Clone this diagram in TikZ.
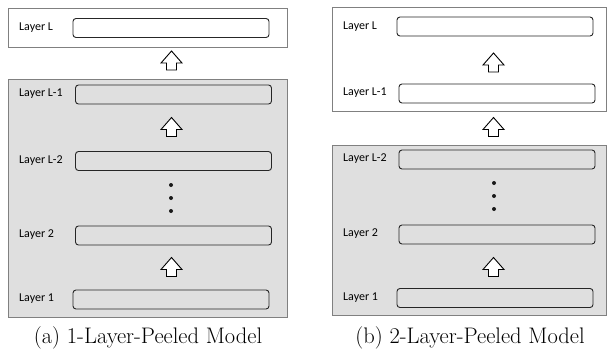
\documentclass[tikz,border=0pt]{standalone}
\usepackage{fontspec}
\newfontfamily\labfont{Carlito}
\definecolor{panelgray}{HTML}{DFDFDF}
\definecolor{panelline}{HTML}{808080}
\begin{document}
\begin{tikzpicture}[x=1pt,y=-1pt,
  panel/.style={draw=panelline, line width=1pt, minimum width=279pt, inner sep=0},
  layerbox/.style={draw=black!85, line width=0.9pt, rounded corners=3pt, minimum width=196pt, minimum height=19pt, inner sep=0},
  lab/.style={anchor=west, inner sep=0, font=\labfont\fontsize{12}{14}\selectfont},
  captext/.style={font=\fontsize{22.5}{26}\selectfont, inner sep=0},
  dot/.style={circle, fill=black!90, inner sep=0, minimum size=4pt},
  blockarrow/.style={draw=black, line width=0.9pt, fill=white, line join=miter},
  uparrow/.pic={\draw[blockarrow] (0,-9.5) -- (10.5,2.5) -- (5,2.5) -- (5,9.5) -- (-5,9.5) -- (-5,2.5) -- (-10.5,2.5) -- cycle;}]
\useasboundingbox (0,0) rectangle (607,354);
% ---------- left: 1-Layer-Peeled ----------
\node[panel, fill=white, minimum height=39pt] (pa1) at (147.5,27.5) {};
\node[panel, fill=panelgray, minimum height=238pt] (pa2) at (147.5,198) {};
\node[layerbox] (aL)  at (171,28) {};
\node[layerbox] (aL1) at (173.5,94.5) {};
\node[layerbox] (aL2) at (173.5,161) {};
\node[layerbox] (a2)  at (173.5,235.5) {};
\node[layerbox] (a1)  at (171,299.5) {};
\node[lab] (laL)  at (19,28) {Layer L};
\node[lab] (laL1) at (19,94) {Layer L-1};
\node[lab] (laL2) at (19,161) {Layer L-2};
\node[lab] (la2)  at (19,235) {Layer 2};
\node[lab] (la1)  at (19,299) {Layer 1};
\pic at (171.5,60.5) {uparrow};
\pic at (171.5,127) {uparrow};
\pic at (171.5,267) {uparrow};
\node[dot] (ad1) at (171,185) {};
\node[dot] (ad2) at (171,198) {};
\node[dot] (ad3) at (171,211) {};
\node[captext] (capa) at (148,338) {(a) 1-Layer-Peeled Model};
% ---------- right: 2-Layer-Peeled ----------
\node[panel, fill=white, minimum width=274.5pt, minimum height=103.5pt] (pb1) at (469.25,59.25) {};
\node[panel, fill=panelgray, minimum width=274.5pt, minimum height=170.5pt] (pb2) at (469.25,230.25) {};
\node[layerbox] (bL)  at (495,26.5) {};
\node[layerbox] (bL1) at (497,93.5) {};
\node[layerbox] (bL2) at (497,159.5) {};
\node[layerbox] (b2)  at (497,234.5) {};
\node[layerbox] (b1)  at (495,298) {};
\node[lab] (lbL)  at (343,27) {Layer L};
\node[lab] (lbL1) at (343,93) {Layer L-1};
\node[lab] (lbL2) at (343,159) {Layer L-2};
\node[lab] (lb2)  at (343,234) {Layer 2};
\node[lab] (lb1)  at (343,298) {Layer 1};
\pic at (493.5,62.5) {uparrow};
\pic at (493.5,127) {uparrow};
\pic at (493.5,267) {uparrow};
\node[dot] (bd1) at (494,183) {};
\node[dot] (bd2) at (494,196) {};
\node[dot] (bd3) at (494,209) {};
\node[captext] (capb) at (470,338) {(b) 2-Layer-Peeled Model};
\end{tikzpicture}
\end{document}
